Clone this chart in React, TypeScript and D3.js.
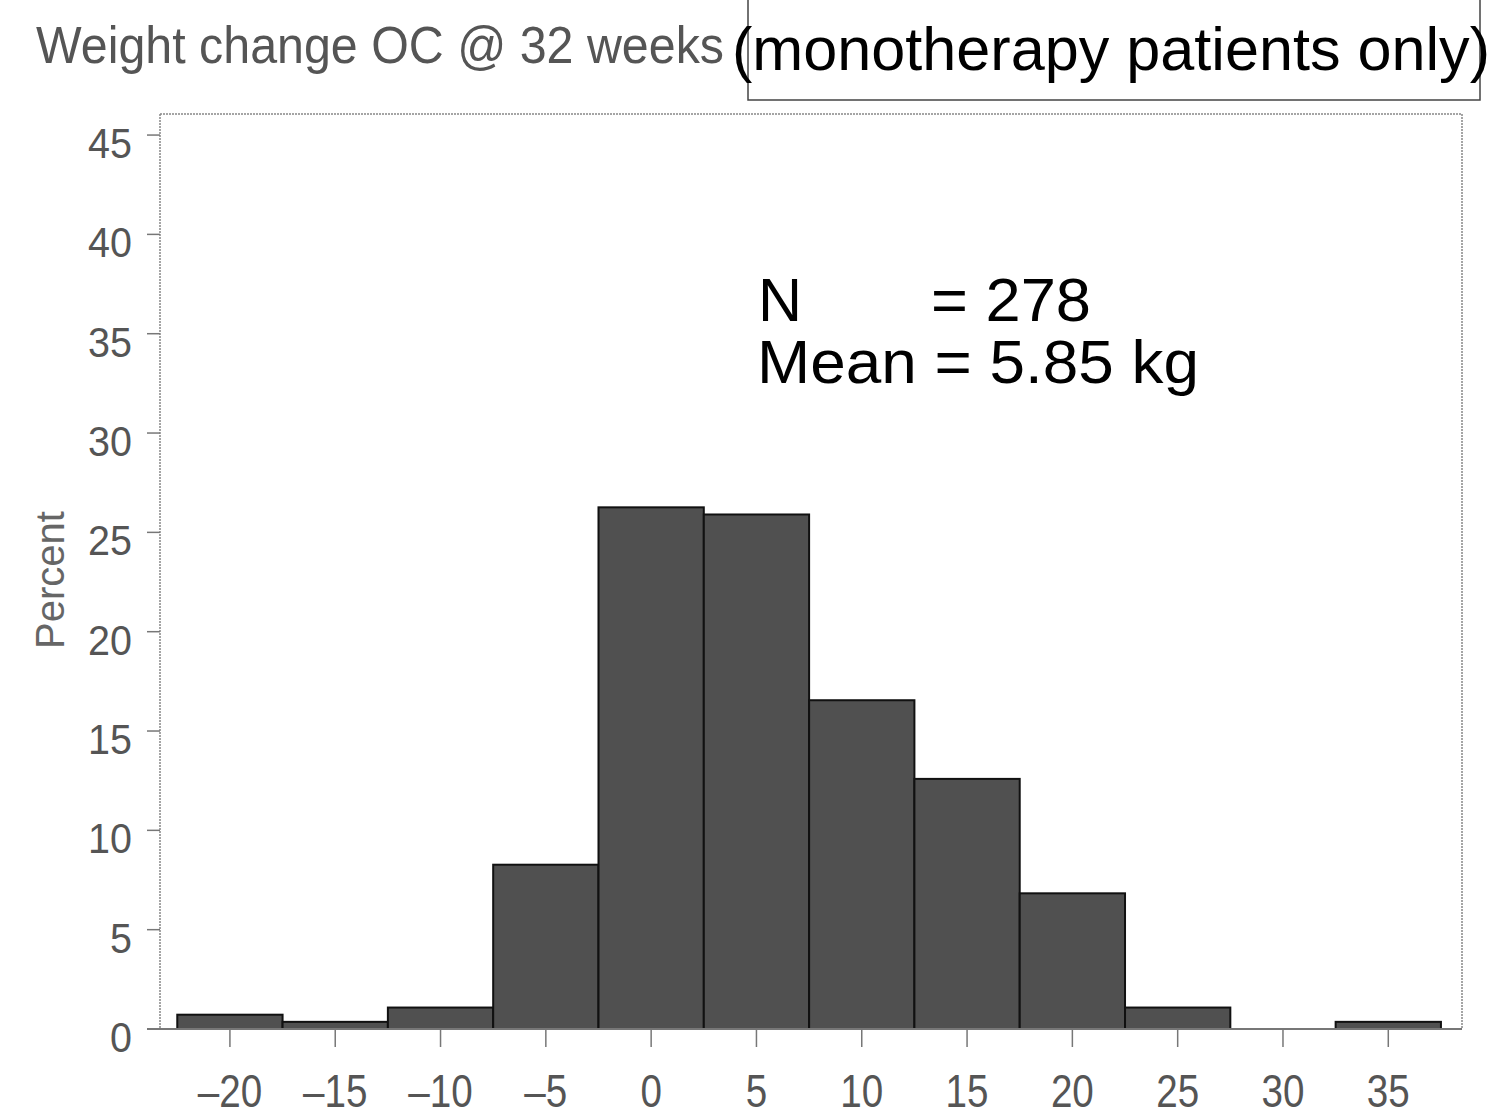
import React from "react";
import * as d3 from "d3";

const binCenters = [-20, -15, -10, -5, 0, 5, 10, 15, 20, 25, 30, 35];
const percents = [0.72, 0.36, 1.08, 8.27, 26.26, 25.9, 16.55, 12.59, 6.83, 1.08, 0, 0.36];
const yTicks = [0, 5, 10, 15, 20, 25, 30, 35, 40, 45];
const xTicks = [-20, -15, -10, -5, 0, 5, 10, 15, 20, 25, 30, 35];
const binWidth = 5;

const W = 1510;
const H = 1118;
const left = 160;
const right = 1462;
const top = 114;
const bottom = 1029;

export default function App() {
  const x = d3.scaleLinear().domain([-23.32, 38.5]).range([left, right]);
  const y = d3.scaleLinear().domain([0, 46.06]).range([bottom, top]);
  const gray = "#555";
  const font = "Liberation Sans, Arial, sans-serif";

  return (
    <svg width={W} height={H} style={{ position: "absolute", left: 0, top: 0, background: "#fff" }}>
      <rect x={0} y={0} width={W} height={H} fill="#fff" />
      {/* title */}
      <text x={36} y={63} fontFamily={font} fontSize={52} fill={gray} textLength={688} lengthAdjust="spacingAndGlyphs">
        Weight change OC @ 32 weeks
      </text>
      <path d="M748,0 V100 H1480 V0" fill="none" stroke="#444" strokeWidth={1.5} />
      <text x={732} y={70} fontFamily="Liberation Sans Narrow, Liberation Sans, Arial, sans-serif" fontSize={62} fill="#000" textLength={758} lengthAdjust="spacingAndGlyphs">
        (monotherapy patients only)
      </text>

      {/* frame */}
      <line x1={left} x2={right} y1={top} y2={top} stroke="#888" strokeWidth={1.5} strokeDasharray="2,1" />
      <line x1={right} x2={right} y1={top} y2={bottom} stroke="#888" strokeWidth={1.5} strokeDasharray="2,1" />
      <line x1={left} x2={left} y1={top} y2={bottom} stroke="#888" strokeWidth={1.5} strokeDasharray="2,1" />

      {/* bars */}
      {binCenters.map((c, i) => (
        <rect
          key={i}
          x={x(c - binWidth / 2)}
          y={y(percents[i])}
          width={x(c + binWidth / 2) - x(c - binWidth / 2)}
          height={y(0) - y(percents[i])}
          fill="#505050"
          stroke="#111"
          strokeWidth={2}
        />
      ))}

      {/* x axis line */}
      <line x1={left - 13} x2={right} y1={bottom} y2={bottom} stroke="#777" strokeWidth={2} />

      {/* y ticks */}
      {yTicks.map((t) => (
        <g key={t}>
          <line x1={left - 13} x2={left} y1={y(t)} y2={y(t)} stroke="#777" strokeWidth={1.5} />
          <text
            transform={`translate(132,${y(t) + 23}) scale(0.94,1)`}
            textAnchor="end"
            fontFamily={font}
            fontSize={42}
            fill={gray}
          >
            {t}
          </text>
        </g>
      ))}
      {/* x ticks */}
      {xTicks.map((t) => (
        <g key={t}>
          <line x1={x(t)} x2={x(t)} y1={bottom} y2={bottom + 18} stroke="#777" strokeWidth={1.5} />
          <text
            transform={`translate(${x(t)},1107) scale(0.84,1)`}
            textAnchor="middle"
            fontFamily={font}
            fontSize={46}
            fill={gray}
          >
            {t < 0 ? "\u2013" + Math.abs(t) : t}
          </text>
        </g>
      ))}

      {/* y label */}
      <text transform={`translate(64,${580}) rotate(-90)`} textAnchor="middle" fontFamily={font} fontSize={40} fill="#666">
        Percent
      </text>

      {/* annotation */}
      <text x={758} y={321} fontFamily={font} fontSize={61} fill="#000">N</text>
      <text x={931} y={321} fontFamily={font} fontSize={61} fill="#000" textLength={160} lengthAdjust="spacingAndGlyphs">= 278</text>
      <text x={757} y={383} fontFamily={font} fontSize={61} fill="#000" textLength={442} lengthAdjust="spacingAndGlyphs">Mean = 5.85 kg</text>
    </svg>
  );
}
